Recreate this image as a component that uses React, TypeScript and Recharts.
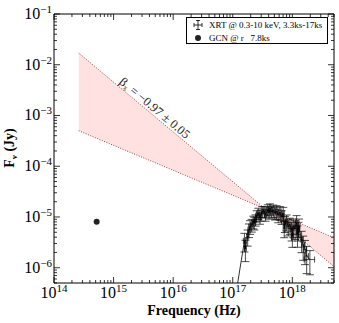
import React from 'react'
import {
  ComposedChart,
  XAxis,
  YAxis,
  Area,
  Line,
  Scatter,
  ErrorBar,
  Legend,
  ReferenceDot,
} from 'recharts'

const FONT = "'Liberation Serif', 'DejaVu Serif', serif"

// axes (log-log)
const X_DOMAIN = [1e14, 5e18]
const Y_DOMAIN = [5e-7, 1e-1]
const X_DECADES = [14, 15, 16, 17, 18]
const Y_DECADES = [-7, -6, -5, -4, -3, -2, -1]
const MINOR_STEPS = [1, 2, 3, 4, 5, 6, 7, 8, 9]

// power-law band edges (Hz, Jy)
const BAND_FREQ = [2.6e14, 3.5e17, 5e18]
const BAND_STEEP = [1.7e-2, 1.45e-5, 1.05e-6]
const BAND_SHALLOW = [5.0e-4, 1.45e-5, 3.9e-6]

// XRT spectrum, errors are fractional (first bin falls below the plot)
const XRT_FREQ = [
  9.7e16, 1.57e17, 1.63e17, 1.78e17, 1.87e17, 1.95e17, 2.08e17, 2.21e17, 2.3e17, 2.42e17,
  2.52e17, 2.68e17, 2.86e17, 2.97e17, 3.13e17, 3.38e17, 3.56e17, 3.85e17, 4.05e17, 4.21e17,
  4.49e17, 4.78e17, 5.1e17, 5.45e17, 5.8e17, 6.19e17, 6.61e17, 7.03e17, 7.3e17, 7.51e17,
  8.02e17, 8.53e17, 9.11e17, 9.73e17, 1.0e18, 1.035e18, 1.11e18, 1.18e18, 1.22e18, 1.26e18,
  1.29e18, 1.43e18, 1.52e18, 1.63e18, 1.74e18, 1.97e18,
]
const XRT_FLUX = [
  1.0e-7, 3.4e-6, 2.4e-6, 4.1e-6, 5.6e-6, 6.5e-6, 7.0e-6, 8.1e-6, 7.7e-6, 8.8e-6,
  1.06e-5, 1.19e-5, 9.6e-6, 1.1e-5, 1.28e-5, 1.28e-5, 1.1e-5, 1.39e-5, 1.21e-5, 1.45e-5,
  1.28e-5, 1.34e-5, 1.21e-5, 1.28e-5, 1.1e-5, 1.23e-5, 1.02e-5, 1.19e-5, 6.0e-6, 7.6e-6,
  8.1e-6, 6.5e-6, 7.0e-6, 5.6e-6, 4.2e-6, 6.5e-6, 6.0e-6, 7.6e-6, 4.6e-6, 5.6e-6,
  6.5e-6, 3.6e-6, 2.8e-6, 2.3e-6, 1.7e-6, 1.45e-6,
]
const XRT_FLUX_ERR = [
  null, 0.4, 0.45, 0.35, 0.3, 0.3, 0.28, 0.28, 0.28, 0.25,
  0.25, 0.25, 0.25, 0.25, 0.25, 0.25, 0.25, 0.25, 0.25, 0.25,
  0.25, 0.28, 0.28, 0.3, 0.3, 0.3, 0.3, 0.3, 0.35, 0.35,
  0.35, 0.35, 0.35, 0.4, 0.4, 0.4, 0.4, 0.4, 0.45, 0.4,
  0.4, 0.45, 0.5, 0.5, 0.55, 0.5,
]
const XRT_FREQ_ERR = [
  null, 0.04, 0.04, 0.04, 0.04, 0.04, 0.04, 0.04, 0.04, 0.04,
  0.04, 0.04, 0.04, 0.04, 0.04, 0.04, 0.04, 0.04, 0.04, 0.04,
  0.04, 0.04, 0.04, 0.04, 0.04, 0.04, 0.04, 0.04, 0.04, 0.04,
  0.04, 0.04, 0.04, 0.04, 0.04, 0.04, 0.04, 0.04, 0.04, 0.04,
  0.04, 0.05, 0.05, 0.06, 0.07, 0.2,
]

// optical point
const GCN_FREQ = [5.2e14]
const GCN_FLUX = [8.05e-6]

// slope annotation anchor (Hz, Jy)
const SLOPE_FREQ = 4.9e15
const SLOPE_FLUX = 1.4e-3

const bandData = BAND_FREQ.map((x, i) => ({ x, steep: BAND_STEEP[i], shallow: BAND_SHALLOW[i] }))
const xrtData = XRT_FREQ.map((x, i) => {
  const fy = XRT_FLUX_ERR[i]
  const fx = XRT_FREQ_ERR[i]
  return {
    x,
    y: XRT_FLUX[i],
    yErr: fy == null ? undefined : [XRT_FLUX[i] * fy, XRT_FLUX[i] * fy],
    xErr: fx == null ? undefined : [x * fx, x * fx],
  }
})
const gcnData = GCN_FREQ.map((x, i) => ({ x, y: GCN_FLUX[i] }))

const makeTicks = (decades: number[], lo: number, hi: number) =>
  decades
    .flatMap(d => MINOR_STEPS.map(k => k * Math.pow(10, d)))
    .filter(v => v >= lo * 0.999 && v <= hi * 1.001)

const X_TICKS = makeTicks(X_DECADES, X_DOMAIN[0], X_DOMAIN[1])
const Y_TICKS = makeTicks(Y_DECADES, Y_DOMAIN[0], Y_DOMAIN[1])

const isMajor = (v: number) => Math.abs(Math.log10(v) - Math.round(Math.log10(v))) < 1e-6
const expOf = (v: number) => {
  const e = Math.round(Math.log10(v))
  return e < 0 ? `\u2212${-e}` : `${e}`
}

const MAJOR = 6
const MINOR = 3

const BottomTick = ({ x, y, payload }: any) => {
  const major = isMajor(payload.value)
  return (
    <g>
      <line x1={x} x2={x} y1={y} y2={y - (major ? MAJOR : MINOR)} stroke="#000" strokeWidth={0.8} />
      {major && (
        <text x={x} y={y + 15} textAnchor="middle" fontFamily={FONT} fontSize={16} fill="#000">
          10<tspan dy={-6} fontSize={11}>{expOf(payload.value)}</tspan>
        </text>
      )}
    </g>
  )
}

const TopTick = ({ x, y, payload }: any) => {
  const major = isMajor(payload.value)
  return <line x1={x} x2={x} y1={y} y2={y + (major ? MAJOR : MINOR)} stroke="#000" strokeWidth={0.8} />
}

const LeftTick = ({ x, y, payload }: any) => {
  const major = isMajor(payload.value)
  return (
    <g>
      <line x1={x} x2={x + (major ? MAJOR : MINOR)} y1={y} y2={y} stroke="#000" strokeWidth={0.8} />
      {major && (
        <text x={x - 2} y={y + 5} textAnchor="end" fontFamily={FONT} fontSize={16} fill="#000">
          10<tspan dy={-6} fontSize={11}>{expOf(payload.value)}</tspan>
        </text>
      )}
    </g>
  )
}

const RightTick = ({ x, y, payload }: any) => {
  const major = isMajor(payload.value)
  return <line x1={x} x2={x - (major ? MAJOR : MINOR)} y1={y} y2={y} stroke="#000" strokeWidth={0.8} />
}

const renderLegend = () => (
  <div
    style={{
      border: '1px solid #000',
      background: '#fff',
      fontFamily: FONT,
      fontSize: 9,
      color: '#000',
      padding: '1px 0 1px 6px',
      boxSizing: 'border-box',
      width: 142,
      height: 27,
      whiteSpace: 'nowrap',
      lineHeight: '12px',
    }}
  >
    <div style={{ display: 'flex', alignItems: 'center', height: 12 }}>
      <svg width={10} height={10} style={{ marginRight: 6, flexShrink: 0 }}>
        <line x1={5} x2={5} y1={0} y2={10} stroke="#000" strokeWidth={0.8} />
        <line x1={1} x2={9} y1={5} y2={5} stroke="#000" strokeWidth={0.8} />
        <line x1={3} x2={7} y1={0.5} y2={0.5} stroke="#000" strokeWidth={0.8} />
        <line x1={3} x2={7} y1={9.5} y2={9.5} stroke="#000" strokeWidth={0.8} />
        <line x1={1} x2={1} y1={3} y2={7} stroke="#000" strokeWidth={0.8} />
        <line x1={9} x2={9} y1={3} y2={7} stroke="#000" strokeWidth={0.8} />
      </svg>
      <span>XRT @ 0.3-10 keV, 3.3ks-17ks</span>
    </div>
    <div style={{ display: 'flex', alignItems: 'center', height: 13 }}>
      <svg width={10} height={10} style={{ marginRight: 6, flexShrink: 0 }}>
        <circle cx={5} cy={5} r={3} fill="#222" />
      </svg>
      <span style={{ whiteSpace: 'pre' }}>GCN @ r   7.8ks</span>
    </div>
  </div>
)

const SlopeLabel = ({ cx, cy }: any) => (
  <text
    transform={`translate(${cx},${cy}) rotate(40)`}
    textAnchor="middle"
    dominantBaseline="central"
    fontFamily={FONT}
    fontSize={12.5}
    fill="#222"
  >
    β<tspan dy={3} fontSize={8}>x</tspan>
    <tspan dy={-3}> = −0.97 ± 0.05</tspan>
  </text>
)

const axisLine = { stroke: '#000', strokeWidth: 1 }

export default function App() {
  return (
    <div style={{ position: 'absolute', left: 0, top: 0, width: 339, height: 323, background: '#fff' }}>
      <ComposedChart
        width={339}
        height={323}
        data={bandData}
        margin={{ top: 13, right: 4, bottom: 39, left: 53 }}
      >
        <XAxis
          dataKey="x"
          type="number"
          scale="log"
          domain={X_DOMAIN}
          ticks={X_TICKS}
          interval={0}
          allowDataOverflow
          height={1}
          tickSize={0}
          tickMargin={0}
          tick={<BottomTick />}
          axisLine={axisLine}
        />
        <XAxis
          xAxisId="top"
          orientation="top"
          dataKey="x"
          type="number"
          scale="log"
          domain={X_DOMAIN}
          ticks={X_TICKS}
          interval={0}
          allowDataOverflow
          height={1}
          tickSize={0}
          tickMargin={0}
          tick={<TopTick />}
          axisLine={axisLine}
        />
        <YAxis
          dataKey="y"
          type="number"
          scale="log"
          domain={Y_DOMAIN}
          ticks={Y_TICKS}
          interval={0}
          allowDataOverflow
          width={1}
          tickSize={0}
          tickMargin={0}
          tick={<LeftTick />}
          axisLine={axisLine}
        />
        <YAxis
          yAxisId="right"
          orientation="right"
          dataKey="y"
          type="number"
          scale="log"
          domain={Y_DOMAIN}
          ticks={Y_TICKS}
          interval={0}
          allowDataOverflow
          width={1}
          tickSize={0}
          tickMargin={0}
          tick={<RightTick />}
          axisLine={axisLine}
        />

        <Area
          dataKey={(d: any) => [d.shallow, d.steep]}
          type="linear"
          fill="#ffe1e1"
          fillOpacity={1}
          stroke="none"
          isAnimationActive={false}
        />
        <Line dataKey="steep" type="linear" stroke="#9a4a4a" strokeWidth={1} strokeDasharray="1 1.5" dot={false} isAnimationActive={false} />
        <Line dataKey="shallow" type="linear" stroke="#9a4a4a" strokeWidth={1} strokeDasharray="1 1.5" dot={false} isAnimationActive={false} />

        <Scatter
          data={xrtData}
          shape={() => <g />}
          line={{ stroke: '#000', strokeWidth: 0.8 }}
          lineType="joint"
          isAnimationActive={false}
        >
          <ErrorBar dataKey="yErr" direction="y" width={4} stroke="#000" strokeWidth={0.7} />
          <ErrorBar dataKey="xErr" direction="x" width={3} stroke="#000" strokeWidth={0.7} />
        </Scatter>
        <Scatter
          data={gcnData}
          shape={(p: any) => <circle cx={p.cx} cy={p.cy} r={3} fill="#222" />}
          isAnimationActive={false}
        />

        <ReferenceDot x={SLOPE_FREQ} y={SLOPE_FLUX} r={0} shape={<SlopeLabel />} />

        <Legend
          layout="vertical"
          align="center"
          verticalAlign="middle"
          content={renderLegend}
          wrapperStyle={{ top: 17, left: 186, width: 142, height: 27 }}
        />
      </ComposedChart>

      <div
        style={{
          position: 'absolute',
          left: 54,
          width: 280,
          top: 304,
          textAlign: 'center',
          fontFamily: FONT,
          fontSize: 14,
          fontWeight: 'bold',
          lineHeight: '14px',
        }}
      >
        Frequency (Hz)
      </div>
      <div
        style={{
          position: 'absolute',
          left: 12,
          top: 148,
          transform: 'translate(-50%, -50%) rotate(-90deg)',
          fontFamily: FONT,
          fontSize: 14,
          fontWeight: 'bold',
          lineHeight: '14px',
          whiteSpace: 'nowrap',
        }}
      >
        F<sub style={{ fontSize: 9 }}>ν</sub> (Jy)
      </div>
    </div>
  )
}
